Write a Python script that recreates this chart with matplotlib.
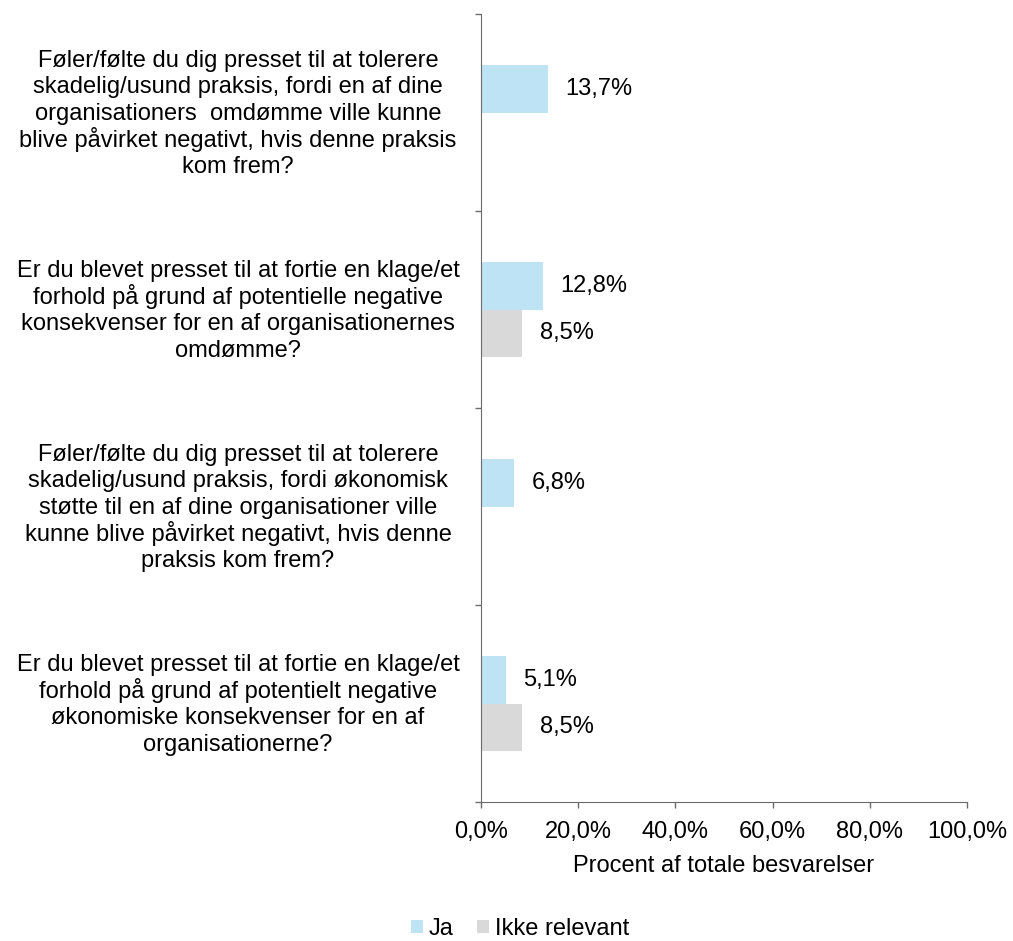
import matplotlib
matplotlib.use("Agg")
import matplotlib.pyplot as plt
import matplotlib.transforms as mtransforms
import numpy as np

plt.rcParams['font.family'] = ['Liberation Sans', 'DejaVu Sans']

categories = [
    "Føler/følte du dig presset til at tolerere\nskadelig/usund praksis, fordi en af dine\norganisationers  omdømme ville kunne\nblive påvirket negativt, hvis denne praksis\nkom frem?",
    "Er du blevet presset til at fortie en klage/et\nforhold på grund af potentielle negative\nkonsekvenser for en af organisationernes\nomdømme?",
    "Føler/følte du dig presset til at tolerere\nskadelig/usund praksis, fordi økonomisk\nstøtte til en af dine organisationer ville\nkunne blive påvirket negativt, hvis denne\npraksis kom frem?",
    "Er du blevet presset til at fortie en klage/et\nforhold på grund af potentielt negative\nøkonomiske konsekvenser for en af\norganisationerne?",
]
ja = [13.7, 12.8, 6.8, 5.1]
ikke_relevant = [np.nan, 8.5, np.nan, 8.5]
series_names = ["Ja", "Ikke relevant"]
xticks = [0, 20, 40, 60, 80, 100]
xlabel = "Procent af totale besvarelser"

colors = ["#BDE3F5", "#D9D9D9"]
spine_color = "#6b6b6b"
FS = 17

fig = plt.figure(figsize=(10.13, 9.41), dpi=100)
ax = fig.add_axes([481/1013, 1-802/941, (967-481)/1013, (802-14)/941])

y = np.arange(len(categories))
h = 0.239
b1 = ax.barh(y - h/2, ja, height=h, color=colors[0], label=series_names[0])
b2 = ax.barh(y + h/2, np.nan_to_num(ikke_relevant), height=h, color=colors[1], label=series_names[1])

def fmt(v):
    return f"{v:.1f}".replace('.', ',') + "%"

for vals, yy in ((ja, y - h/2), (ikke_relevant, y + h/2)):
    for v, yc in zip(vals, yy):
        if not np.isnan(v):
            ax.annotate(fmt(v), xy=(v, yc), xytext=(12.5, 0), textcoords='offset points',
                        ha='left', va='center', fontsize=FS, color='black')

ax.set_xlim(0, 100)
ax.set_ylim(len(categories) - 0.5, -0.5)
ax.set_xticks(xticks)
ax.set_xticklabels([fmt(t) for t in xticks], fontsize=FS)
ax.set_xlabel(xlabel, fontsize=FS, labelpad=9)

# category labels: centered text block, uniform line spacing
ax.set_yticks(y)
ax.set_yticklabels([""] * len(categories))
ax.set_yticks(np.arange(-0.5, len(categories)), minor=True)
ax.tick_params(axis='y', which='major', length=0)
ax.tick_params(axis='y', which='minor', length=4.5, width=1, color=spine_color)
ax.tick_params(axis='x', which='major', length=4.5, width=1, color=spine_color, pad=9)

trans = mtransforms.blended_transform_factory(fig.transFigure, ax.transData)
line_pt = 26.6 * 72 / 100
shift_pt = 7.5 * 72 / 100
for yc, lab in zip(y, categories):
    lines = lab.split("\n")
    n = len(lines)
    for i, ln in enumerate(lines):
        off = -((i - (n - 1) / 2) * line_pt + shift_pt)
        ax.annotate(ln, xy=(238/1013, yc), xycoords=trans, xytext=(0, off),
                    textcoords='offset points', ha='center', va='baseline',
                    fontsize=FS, color='black', annotation_clip=False)

for s in ['top', 'right']:
    ax.spines[s].set_visible(False)
for s in ['left', 'bottom']:
    ax.spines[s].set_color(spine_color)

fig.legend(handles=[b1, b2], labels=series_names, loc='center',
           bbox_to_anchor=(520/1013, 12/941), ncol=2, frameon=False, fontsize=FS,
           handlelength=0.5, handleheight=0.5, handletextpad=0.25, columnspacing=1.0,
           borderpad=0)

fig.savefig("out.png", dpi=100)
